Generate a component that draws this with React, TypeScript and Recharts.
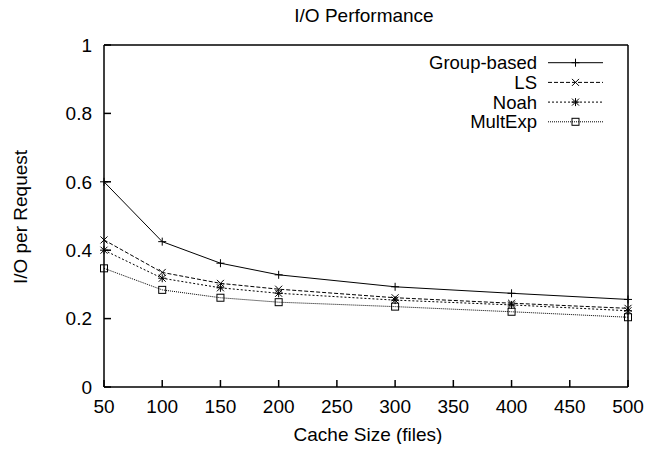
import React from "react";
import { Legend, Line, LineChart, XAxis, YAxis } from "recharts";

const cacheSizes = [50, 100, 150, 200, 300, 400, 500];
const groupBased = [0.6, 0.425, 0.362, 0.328, 0.293, 0.274, 0.256];
const lsValues = [0.43, 0.335, 0.303, 0.286, 0.261, 0.245, 0.23];
const noahValues = [0.4, 0.318, 0.29, 0.274, 0.254, 0.24, 0.223];
const multExpValues = [0.347, 0.284, 0.261, 0.248, 0.235, 0.22, 0.204];

const xTicks = [50, 100, 150, 200, 250, 300, 350, 400, 450, 500];
const yTicks = [0, 0.2, 0.4, 0.6, 0.8, 1];

const FONT = "'Liberation Sans', Arial, Helvetica, sans-serif";

type Shape = "plus" | "cross" | "star" | "square";

const series: { key: string; name: string; dash?: string; shape: Shape }[] = [
  { key: "group", name: "Group-based", shape: "plus" },
  { key: "ls", name: "LS", dash: "4 2", shape: "cross" },
  { key: "noah", name: "Noah", dash: "2 2", shape: "star" },
  { key: "mult", name: "MultExp", dash: "1 1", shape: "square" },
];

const data = cacheSizes.map((size, i) => ({
  size,
  group: groupBased[i],
  ls: lsValues[i],
  noah: noahValues[i],
  mult: multExpValues[i],
}));

const Marker = ({ cx, cy, shape }: { cx: number; cy: number; shape: Shape }) => {
  const s = 3.5;
  const st = { stroke: "#000", strokeWidth: 1 };
  if (shape === "plus")
    return (
      <g>
        <line x1={cx - 4} x2={cx + 4} y1={cy} y2={cy} {...st} />
        <line x1={cx} x2={cx} y1={cy - 4} y2={cy + 4} {...st} />
      </g>
    );
  if (shape === "cross")
    return (
      <g>
        <line x1={cx - s} x2={cx + s} y1={cy - s} y2={cy + s} {...st} />
        <line x1={cx - s} x2={cx + s} y1={cy + s} y2={cy - s} {...st} />
      </g>
    );
  if (shape === "star")
    return (
      <g>
        <line x1={cx - s} x2={cx + s} y1={cy - s} y2={cy + s} {...st} />
        <line x1={cx - s} x2={cx + s} y1={cy + s} y2={cy - s} {...st} />
        <line x1={cx - 4} x2={cx + 4} y1={cy} y2={cy} {...st} />
        <line x1={cx} x2={cx} y1={cy - 4} y2={cy + 4} {...st} />
      </g>
    );
  return <rect x={cx - s} y={cy - s} width={s * 2} height={s * 2} fill="none" {...st} />;
};

const LegendBox = () => (
  <svg width={200} height={85} style={{ display: "block", overflow: "visible" }}>
    {series.map((s, i) => {
      const y = 10.7 + i * 19.7;
      return (
        <g key={s.key}>
          <text
            x={129}
            y={y}
            textAnchor="end"
            dominantBaseline="central"
            fontFamily={FONT}
            fontSize={18.5}
            fill="#000"
          >
            {s.name}
          </text>
          <line x1={140} x2={195} y1={y} y2={y} stroke="#000" strokeDasharray={s.dash} />
          <Marker cx={167.5} cy={y} shape={s.shape} />
        </g>
      );
    })}
  </svg>
);

const tickStyle = { fontSize: 19, fill: "#000", fontFamily: FONT };

export default function App() {
  return (
    <div style={{ margin: -8 }}>
      <LineChart
        width={658}
        height={452}
        data={data}
        margin={{ top: 44, right: 29, bottom: 35, left: 44 }}
      >
        <XAxis
          dataKey="size"
          type="number"
          domain={[50, 500]}
          ticks={xTicks}
          stroke="#000"
          strokeWidth={1.5}
          tickSize={-7}
          tickMargin={20}
          tick={tickStyle}
          height={30}
        />
        <XAxis
          xAxisId="top"
          orientation="top"
          type="number"
          domain={[50, 500]}
          ticks={xTicks}
          stroke="#000"
          strokeWidth={1.5}
          tickSize={-7}
          tick={false}
          height={1}
        />
        <YAxis
          type="number"
          domain={[0, 1]}
          ticks={yTicks}
          stroke="#000"
          strokeWidth={1.5}
          tickSize={-7}
          tickMargin={19}
          tick={tickStyle}
          width={60}
        />
        <YAxis
          yAxisId="right"
          orientation="right"
          type="number"
          domain={[0, 1]}
          ticks={yTicks}
          stroke="#000"
          strokeWidth={1.5}
          tickSize={-7}
          tick={false}
          width={1}
        />
        {series.map((s) => (
          <Line
            key={s.key}
            dataKey={s.key}
            name={s.name}
            stroke="#000"
            strokeWidth={1}
            strokeDasharray={s.dash}
            isAnimationActive={false}
            dot={(p: any) => (
              <Marker key={`${s.key}-${p.index}`} cx={p.cx} cy={p.cy} shape={s.shape} />
            )}
            activeDot={false}
          />
        ))}
        <Legend
          layout="vertical"
          align="center"
          verticalAlign="middle"
          content={() => <LegendBox />}
          wrapperStyle={{ position: "absolute", left: 408, top: 52, width: 200, height: 85 }}
        />
        <text x={364} y={15} textAnchor="middle" dominantBaseline="central" fontFamily={FONT} fontSize={19} fill="#000">
          I/O Performance
        </text>
        <text
          x={368}
          y={434}
          textAnchor="middle"
          dominantBaseline="central"
          fontFamily={FONT}
          fontSize={19}
          fill="#000"
        >
          Cache Size (files)
        </text>
        <text
          x={20}
          y={217}
          textAnchor="middle"
          dominantBaseline="central"
          transform="rotate(-90 20 217)"
          fontFamily={FONT}
          fontSize={19}
          fill="#000"
        >
          I/O per Request
        </text>
      </LineChart>
    </div>
  );
}
